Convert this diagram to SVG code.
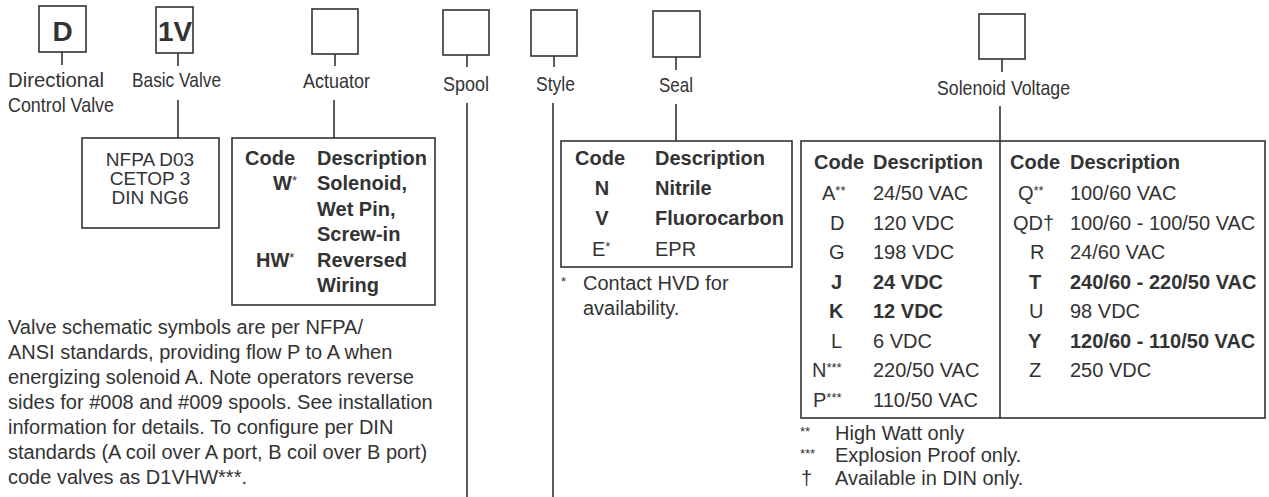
<svg xmlns="http://www.w3.org/2000/svg" width="1269" height="497" viewBox="0 0 1269 497">
  <style>
    .box { fill: none; stroke: #333; stroke-width: 1.6; }
    .ln { fill: none; stroke: #333; stroke-width: 1.6; }
    .t { font-family: "Liberation Sans", Arial, Helvetica, sans-serif; font-size: 20px; fill: #333; }
    .lbl { font-family: "Liberation Sans", Arial, Helvetica, sans-serif; font-size: 21px; fill: #333; }
    .b { font-weight: bold; }
    .big { font-family: "Liberation Sans", Arial, Helvetica, sans-serif; font-size: 28px; font-weight: bold; fill: #333; }
    .sup { font-size: 13px; font-weight: normal; }
    .mid { text-anchor: middle; }
  </style>
  <rect width="1269" height="497" fill="#fff"/>

  <!-- code position boxes with captions -->
  <g id="field-d">
    <rect class="box" x="39" y="6" width="47" height="46"/>
    <text class="big mid" x="62.5" y="41">D</text>
    <text class="lbl" x="8" y="87" textLength="96" lengthAdjust="spacingAndGlyphs">Directional</text>
    <text class="lbl" x="8" y="112" textLength="106" lengthAdjust="spacingAndGlyphs">Control Valve</text>
  </g>
  <g id="field-basic-valve">
    <rect class="box" x="156" y="7" width="37" height="46"/>
    <text class="big mid" x="175" y="41">1V</text>
    <text class="lbl" x="132" y="87" textLength="89" lengthAdjust="spacingAndGlyphs">Basic Valve</text>
  </g>
  <g id="field-actuator">
    <rect class="box" x="312" y="9" width="46" height="45"/>
    <text class="lbl" x="303" y="88" textLength="67" lengthAdjust="spacingAndGlyphs">Actuator</text>
  </g>
  <g id="field-spool">
    <rect class="box" x="443" y="10" width="46" height="45"/>
    <text class="lbl" x="443" y="91" textLength="46" lengthAdjust="spacingAndGlyphs">Spool</text>
  </g>
  <g id="field-style">
    <rect class="box" x="531" y="10" width="46" height="46"/>
    <text class="lbl" x="536" y="91" textLength="39" lengthAdjust="spacingAndGlyphs">Style</text>
  </g>
  <g id="field-seal">
    <rect class="box" x="653" y="11" width="47" height="46"/>
    <text class="lbl" x="659" y="92" textLength="34" lengthAdjust="spacingAndGlyphs">Seal</text>
  </g>
  <g id="field-voltage">
    <rect class="box" x="979" y="14" width="46" height="45"/>
    <text class="lbl" x="937" y="95" textLength="133" lengthAdjust="spacingAndGlyphs">Solenoid Voltage</text>
  </g>

  <!-- option tables -->
  <g id="table-basic-valve">
    <rect class="box" x="82" y="138" width="137" height="90"/>
    <text class="t mid" style="font-size:19px"><tspan x="150" y="166">NFPA D03</tspan><tspan x="150" y="185">CETOP 3</tspan><tspan x="150" y="204">DIN NG6</tspan></text>
  </g>

  <g id="table-actuator">
    <rect class="box" x="232" y="138" width="203" height="167"/>
    <text class="t b" x="245" y="165">Code</text>
    <text class="t b" x="317" y="165">Description</text>
    <text class="t b" x="273" y="190">W<tspan class="sup" dy="-5">*</tspan></text>
    <text class="t b" x="317" y="190">Solenoid,</text>
    <text class="t b" x="317" y="216">Wet Pin,</text>
    <text class="t b" x="317" y="241">Screw-in</text>
    <text class="t b" x="256" y="267">HW<tspan class="sup" dy="-5">*</tspan></text>
    <text class="t b" x="317" y="267">Reversed</text>
    <text class="t b" x="317" y="292">Wiring</text>
  </g>

  <g id="note-din">
    <text class="t" x="8" y="334">Valve schematic symbols are per NFPA/</text>
    <text class="t" x="8" y="359">ANSI standards, providing flow P to A when</text>
    <text class="t" x="8" y="384">energizing solenoid A. Note operators reverse</text>
    <text class="t" x="8" y="409">sides for #008 and #009 spools. See installation</text>
    <text class="t" x="8" y="434">information for details. To configure per DIN</text>
    <text class="t" x="8" y="459">standards (A coil over A port, B coil over B port)</text>
    <text class="t" x="8" y="484">code valves as D1VHW***.</text>
  </g>

  <g id="table-seal">
    <rect class="box" x="561" y="141" width="231" height="126"/>
    <text class="t b" x="575" y="165">Code</text>
    <text class="t b" x="655" y="165">Description</text>
    <text class="t b mid" x="602" y="195">N</text>
    <text class="t b" x="655" y="195">Nitrile</text>
    <text class="t b mid" x="602" y="225">V</text>
    <text class="t b" x="655" y="225">Fluorocarbon</text>
    <text class="t" x="592" y="256">E<tspan class="sup" dy="-5">*</tspan></text>
    <text class="t" x="655" y="256">EPR</text>
    <text class="t" x="561" y="286"><tspan class="sup">*</tspan></text>
    <text class="t" x="583" y="290">Contact HVD for</text>
    <text class="t" x="583" y="315">availability.</text>
  </g>

  <g id="table-voltage">
    <rect class="box" x="801" y="141" width="464" height="277"/>
    <line class="ln" x1="1000" y1="141" x2="1000" y2="418"/>
    <!-- left column -->
    <text class="t b" x="814" y="169">Code</text>
    <text class="t b" x="873" y="169">Description</text>
    <text class="t" x="822" y="200">A<tspan class="sup" dy="-5">**</tspan></text>
    <text class="t" x="873" y="200">24/50 VAC</text>
    <text class="t" x="830" y="229.5">D</text>
    <text class="t" x="873" y="229.5">120 VDC</text>
    <text class="t" x="829" y="259">G</text>
    <text class="t" x="873" y="259">198 VDC</text>
    <text class="t b" x="831" y="288.5">J</text>
    <text class="t b" x="873" y="288.5">24 VDC</text>
    <text class="t b" x="829" y="318">K</text>
    <text class="t b" x="873" y="318">12 VDC</text>
    <text class="t" x="831" y="347.5">L</text>
    <text class="t" x="873" y="347.5">6 VDC</text>
    <text class="t" x="812" y="377">N<tspan class="sup" dy="-5">***</tspan></text>
    <text class="t" x="873" y="377">220/50 VAC</text>
    <text class="t" x="813" y="406.5">P<tspan class="sup" dy="-5">***</tspan></text>
    <text class="t" x="873" y="406.5">110/50 VAC</text>
    <!-- right column -->
    <text class="t b" x="1010" y="169">Code</text>
    <text class="t b" x="1070" y="169">Description</text>
    <text class="t" x="1018" y="200">Q<tspan class="sup" dy="-5">**</tspan></text>
    <text class="t" x="1070" y="200">100/60 VAC</text>
    <text class="t" x="1013" y="229.5">QD†</text>
    <text class="t" x="1070" y="229.5">100/60 - 100/50 VAC</text>
    <text class="t" x="1030" y="259">R</text>
    <text class="t" x="1070" y="259">24/60 VAC</text>
    <text class="t b" x="1029" y="288.5">T</text>
    <text class="t b" x="1070" y="288.5">240/60 - 220/50 VAC</text>
    <text class="t" x="1029" y="318">U</text>
    <text class="t" x="1070" y="318">98 VDC</text>
    <text class="t b" x="1028" y="347.5">Y</text>
    <text class="t b" x="1070" y="347.5">120/60 - 110/50 VAC</text>
    <text class="t" x="1029" y="377">Z</text>
    <text class="t" x="1070" y="377">250 VDC</text>
    <!-- footnotes -->
    <text class="t" x="800" y="436"><tspan class="sup">**</tspan></text>
    <text class="t" x="835" y="440">High Watt only</text>
    <text class="t" x="800" y="458"><tspan class="sup">***</tspan></text>
    <text class="t" x="835" y="462">Explosion Proof only.</text>
    <text class="t" x="801" y="485">†</text>
    <text class="t" x="835" y="485">Available in DIN only.</text>
  </g>

  <!-- leader lines from each code box to its caption and table -->
  <g id="connectors">
    <line class="ln" x1="62" y1="52" x2="62" y2="65"/>
    <line class="ln" x1="178" y1="53" x2="178" y2="66"/>
    <line class="ln" x1="178" y1="100" x2="178" y2="138"/>
    <line class="ln" x1="335" y1="54" x2="335" y2="66"/>
    <line class="ln" x1="334" y1="100" x2="334" y2="138"/>
    <line class="ln" x1="467" y1="55" x2="467" y2="67"/>
    <line class="ln" x1="467" y1="103" x2="467" y2="497"/>
    <line class="ln" x1="554" y1="56" x2="554" y2="67"/>
    <line class="ln" x1="553" y1="103" x2="553" y2="497"/>
    <line class="ln" x1="676" y1="57" x2="676" y2="70"/>
    <line class="ln" x1="676" y1="104" x2="676" y2="141"/>
    <line class="ln" x1="1002" y1="59" x2="1002" y2="72"/>
    <line class="ln" x1="1000" y1="106" x2="1000" y2="141"/>
  </g>
</svg>
